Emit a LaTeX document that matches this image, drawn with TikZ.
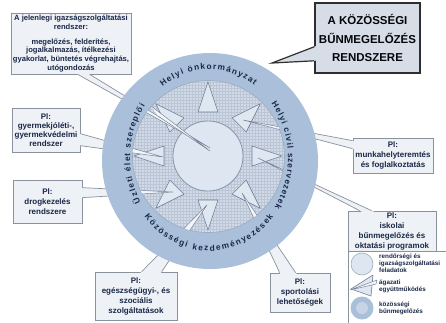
\documentclass[tikz,border=0pt]{standalone}
\usepackage{fontspec}
\setmainfont{Liberation Sans}
\usetikzlibrary{calc,patterns,decorations.text}
\definecolor{ringcol}{HTML}{AABFD9}
\definecolor{bandcol}{HTML}{D1DAE6}
\definecolor{gridcol}{HTML}{BAC6D6}
\definecolor{bandedge}{HTML}{9AA9BD}
\definecolor{disccol}{HTML}{DDE6F1}
\definecolor{discedge}{HTML}{8796AA}
\definecolor{tricol}{HTML}{DFE7F1}
\definecolor{triedge}{HTML}{717F94}
\definecolor{boxfill}{HTML}{EEF1F5}
\definecolor{boxedge}{HTML}{8A929D}
\definecolor{txt}{HTML}{1A2847}
\definecolor{ttlfill}{HTML}{D7DDE6}
\definecolor{ttledge}{HTML}{2E2E2E}
\definecolor{spikefill}{HTML}{F2F5F9}
\newcommand\rgfont{\fontsize{8.3}{10}\selectfont\bfseries}
\tikzset{
  pbox/.style={draw=boxedge, fill=boxfill, line width=0.7pt, inner sep=1pt, align=center, text=txt, font=\fontsize{8}{10}\selectfont\bfseries},
  tailline/.style={draw=boxedge, line width=0.7pt, line join=round},
  tri/.style={fill=tricol, draw=triedge, line width=0.6pt, line join=round},
  spikeline/.style={draw=triedge, line width=0.45pt, line join=round},
  lgtext/.style={anchor=west, align=left, text=txt, font=\fontsize{6.3}{7}\selectfont\bfseries, inner sep=0pt},
}
\begin{document}
\begin{tikzpicture}[x=1pt,y=-1pt]
\useasboundingbox (0,0) rectangle (446,322);
\fill[white] (0,0) rectangle (446,322);

% legend frame
\node[draw=boxedge, fill=white, line width=0.7pt, minimum width=104pt, minimum height=75pt, inner sep=0pt] (lg) at (400,288.5) {};

% boxes
\node[pbox, minimum width=120pt, minimum height=61pt, font=\fontsize{7.6}{8.8}\selectfont\bfseries] (b1) at (71,43.5)
  {A jelenlegi igazságszolgáltatási\\rendszer:\\[6pt]megelőzés, felderítés,\\jogalkalmazás, ítélkezési\\gyakorlat, büntetés végrehajtás,\\utógondozás};
\node[pbox, minimum width=68pt, minimum height=44pt, font=\fontsize{8}{9}\selectfont\bfseries] (b2) at (46,130) {Pl:\\gyermekjóléti-,\\gyermekvédelmi\\rendszer};
\node[pbox, minimum width=69pt, minimum height=43pt] (b3) at (47.5,201.5) {Pl:\\drogkezelés\\rendszere};
\node[pbox, minimum width=82pt, minimum height=48pt] (b4) at (136,296) {Pl:\\egészségügyi-, és\\szociális\\szolgáltatások};
\node[pbox, minimum width=60pt, minimum height=39pt] (b5) at (300,292.5) {Pl:\\sportolási\\lehetőségek};
\node[pbox, minimum width=88pt, minimum height=40pt] (b6) at (392,231) {Pl:\\iskolai\\bűnmegelőzés és\\oktatási programok};
\node[pbox, minimum width=80pt, minimum height=35pt] (b7) at (393,155.5) {Pl:\\munkahelyteremtés\\és foglalkoztatás};

\node[draw=ttledge, line width=1.6pt, fill=ttlfill, minimum width=105pt, minimum height=70pt, inner sep=1pt, align=center, text=black!85!txt, font=\fontsize{11.5}{18.5}\selectfont\bfseries] (ttl) at (367.5,38) {A KÖZÖSSÉGI\\BŰNMEGELŐZÉS\\RENDSZERE};

% tail coordinates
\coordinate (a1) at ($(b1.south west)+(67,0)$); \coordinate (c1) at ($(b1.south west)+(79,0)$); \coordinate (tip1) at (210,148);
\coordinate (a2) at ($(b2.north east)+(0,26)$); \coordinate (c2) at ($(b2.north east)+(0,38)$); \coordinate (tip2) at (163,157);
\coordinate (a3) at ($(b3.north east)+(0,8)$); \coordinate (c3) at ($(b3.north east)+(0,18)$); \coordinate (tip3) at (173,192);
\coordinate (a4) at ($(b4.north west)+(47,0)$); \coordinate (c4) at ($(b4.north west)+(67,0)$); \coordinate (tip4) at (207,205);
\coordinate (a5) at ($(b5.north west)+(10,0)$); \coordinate (c5) at ($(b5.north west)+(26,0)$); \coordinate (tip5) at (242,193);
\coordinate (a6) at ($(b6.north west)+(12,0)$); \coordinate (c6) at ($(b6.north west)+(24,0)$); \coordinate (tip6) at (258,158);
\coordinate (a7) at ($(b7.north west)+(0,3)$); \coordinate (c7) at ($(b7.north west)+(0,11)$); \coordinate (tip7) at (243,120);
\coordinate (aT) at ($(ttl.south west)+(0,-27)$); \coordinate (cT) at ($(ttl.south west)+(0,-13)$); \coordinate (tipT) at (272,63);

\foreach \i in {1,...,7}{
  \fill[boxfill] ($(a\i)!-0.03!(tip\i)$) -- (tip\i) -- ($(c\i)!-0.03!(tip\i)$) -- cycle;
  \draw[tailline] (a\i) -- (tip\i) -- (c\i);
}
\fill[ttlfill] ($(aT)!-0.06!(tipT)$) -- (tipT) -- ($(cT)!-0.06!(tipT)$) -- cycle;
\draw[ttledge, line width=1.2pt] (aT) -- (tipT) -- (cT);

% circle
\begin{scope}[shift={(209,158)}, y=1pt]
  \fill[ringcol] (1,-3) circle[radius=108];
  \fill[bandcol] (-0.5,1.5) circle[radius=76];
  \fill[pattern=grid, pattern color=gridcol] (-0.5,1.5) circle[radius=76];
  \draw[bandedge, line width=0.6pt] (-0.5,1.5) circle[radius=76];
  \filldraw[fill=disccol, draw=discedge, line width=0.8pt] (-1,2) circle[radius=35];
  \foreach \a in {0,45,...,315}
    \draw[tri, shift={(-1,2)}, rotate=\a] (74,0) -- (44,10) -- (44,-10) -- cycle;
  \path[decorate, decoration={text along path, text align={fit to path}, text={|\rgfont\color{txt}|Helyi önkormányzat}}]
    (126:79 and 88.5) arc[start angle=126, end angle=55, x radius=79, y radius=88.5];
  \path[decorate, decoration={text along path, text align={fit to path}, text={|\rgfont\color{txt}|Helyi civil szervezetek}}]
    (38:79 and 88.5) arc[start angle=38, end angle=-34, x radius=79, y radius=88.5];
  \path[decorate, decoration={text along path, text align={fit to path}, text={|\rgfont\color{txt}|Közösségi kezdeményezések}}]
    (-141:83 and 93) arc[start angle=-141, end angle=-39, x radius=83, y radius=93];
  \path[decorate, decoration={text along path, text align={fit to path}, text={|\rgfont\color{txt}|Üzleti élet szereplői}}]
    (210:79 and 88.5) arc[start angle=210, end angle=144, x radius=79, y radius=88.5];
\end{scope}

% inner spikes
\begin{scope}
  \clip (208.5,156.5) circle[radius=76];
  \foreach \i in {1,...,7}{
    \fill[spikefill] (a\i) -- (tip\i) -- (c\i) -- cycle;
    \draw[spikeline] (a\i) -- (tip\i) -- (c\i);
  }
  \fill[spikefill] (151,106) -- (210,151) -- (158,116) -- cycle;
  \draw[spikeline] (151,106) -- (210,151) -- (158,116);
\end{scope}

% legend items
\filldraw[fill=disccol, draw=discedge!80, line width=0.6pt] (362,264) circle[radius=11];
\draw[tri] (373,275) -- (351,289) -- (371,296) -- cycle;
\fill[spikefill] (350,290) -- (377,280) -- (376,284) -- cycle;
\draw[spikeline] (350,290) -- (377,280) -- (376,284) -- cycle;
\fill[ringcol] (362,308) circle[radius=11.5];
\fill[ringcol!45!disccol] (362,308) circle[radius=6];
\node[lgtext] (l1) at (379,263) {rendőrségi és\\igazságszolgáltatási\\feladatok};
\node[lgtext] (l2) at (379,286) {ágazati\\együttműködés};
\node[lgtext] (l3) at (379,308) {közösségi\\bűnmegelőzés};
\end{tikzpicture}
\end{document}
